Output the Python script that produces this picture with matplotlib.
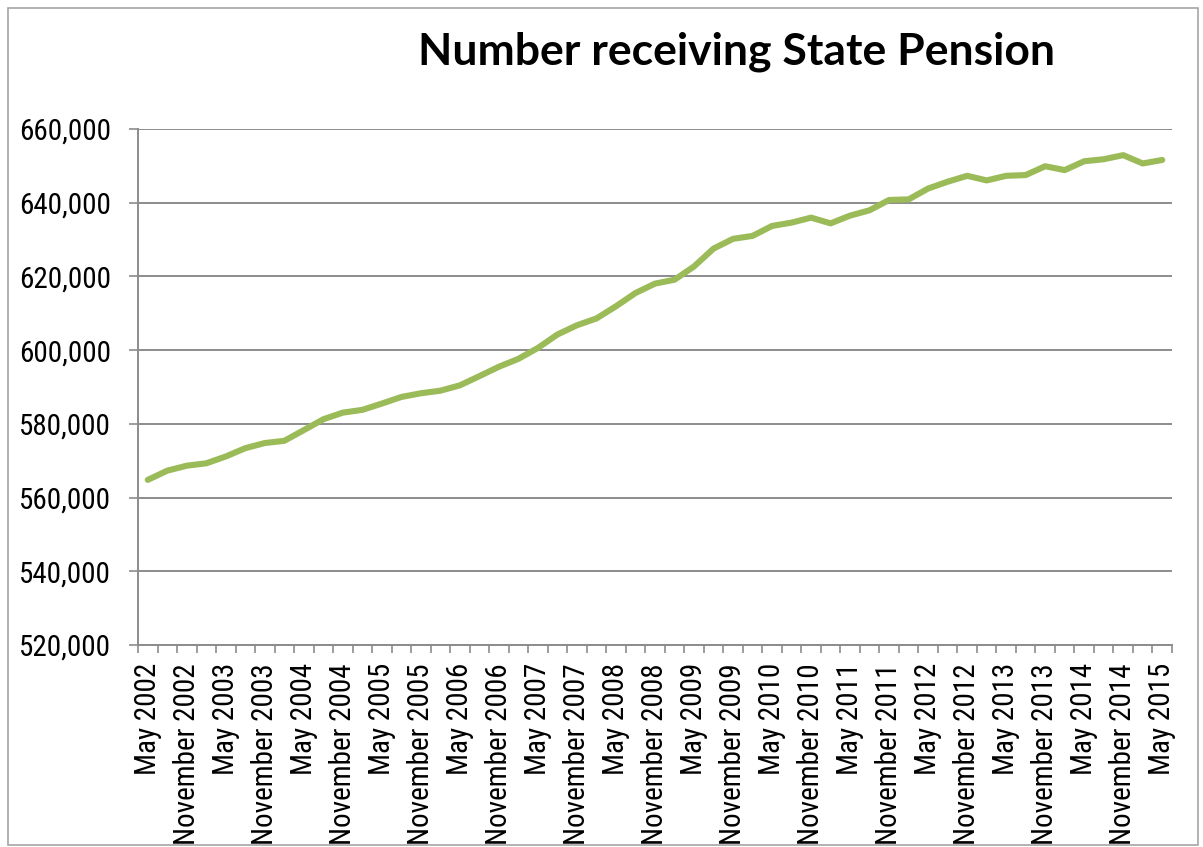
import matplotlib
matplotlib.use("Agg")
import matplotlib.pyplot as plt
from matplotlib import font_manager
from matplotlib.patches import Rectangle
from matplotlib.ticker import FixedLocator, FuncFormatter

# ---- data (quarterly, May 2002 .. May 2015) ----
years = list(range(2002, 2016))
quarter_months = ["February", "May", "August", "November"]
categories = []
for y in years:
    for m in quarter_months:
        categories.append(f"{m} {y}")
start = categories.index("May 2002")
end = categories.index("May 2015")
categories = categories[start:end + 1]

recipients = [
    564800, 567300, 568650, 569300, 571150, 573400, 574800, 575400,
    578300, 581250, 583050, 583800, 585500, 587300, 588300, 589000,
    590450, 592950, 595500, 597650, 600600, 604250, 606750, 608600,
    611900, 615500, 618050, 619100, 622700, 627550, 630200, 631000,
    633700, 634600, 635950, 634400, 636500, 637950, 640750, 640900,
    643850, 645700, 647300, 646050, 647300, 647500, 649900, 648850,
    651250, 651800, 652900, 650650, 651600,
]

title = "Number receiving State Pension"
y_ticks = [520000, 540000, 560000, 580000, 600000, 620000, 640000, 660000]

# ---- fonts ----
available = {f.name for f in font_manager.fontManager.ttflist}
tick_font = "Liberation Sans"
for cand in ["Liberation Sans Narrow", "Arial Narrow", "Roboto Condensed",
             "DejaVu Sans Condensed"]:
    if cand in available:
        tick_font = cand
        break
title_font = "Lato" if "Lato" in available else "DejaVu Sans"
narrow = tick_font != "Liberation Sans"
tick_size = 21 if narrow else 17

fig = plt.figure(figsize=(12.03, 8.47), dpi=100)
fig.patch.set_facecolor("white")
fig.patches.append(Rectangle((8 / 1203, 2 / 847), 1190 / 1203, 837 / 847,
                             transform=fig.transFigure, fill=False,
                             edgecolor="#a6a6a6", linewidth=1.2))

ax = fig.add_axes([138 / 1203, 1 - 645 / 847, (1172 - 138) / 1203, (645 - 129) / 847])
x = list(range(len(recipients)))
ax.plot(x, recipients, color="#9bbb59", linewidth=4.4, solid_capstyle="round",
        solid_joinstyle="round", zorder=3)

ax.set_ylim(520000, 660000)
ax.set_xlim(-0.5, len(recipients) - 0.5)
ax.set_yticks(y_ticks)
ax.yaxis.set_major_formatter(FuncFormatter(lambda v, p: f"{int(v):,}"))
ax.grid(axis="y", color="#8c8c8c", linewidth=1.4, zorder=1)
ax.set_axisbelow(True)

label_idx = list(range(0, len(categories), 2))
ax.set_xticks(label_idx)
ax.set_xticklabels([categories[i] for i in label_idx], rotation=90,
                   fontfamily=tick_font, fontsize=tick_size)
ax.xaxis.set_minor_locator(FixedLocator([i - 0.5 for i in range(len(categories) + 1)]))
ax.tick_params(axis="x", which="major", length=0, pad=13)
ax.tick_params(axis="x", which="minor", length=6, width=1.2, color="#8c8c8c", direction="out")
ax.tick_params(axis="y", length=6.5, width=1.2, color="#8c8c8c", pad=13)
for lab in ax.get_yticklabels():
    lab.set_fontfamily(tick_font)
    lab.set_fontsize(tick_size)

for s in ["top", "right"]:
    ax.spines[s].set_visible(False)
for s in ["left", "bottom"]:
    ax.spines[s].set_color("#8c8c8c")
    ax.spines[s].set_linewidth(1.4)

fig.text(737 / 1203, 1 - 52 / 847, title, ha="center", va="center",
         fontsize=32, fontweight="bold", fontfamily=title_font)

fig.savefig("out.png", dpi=100)
